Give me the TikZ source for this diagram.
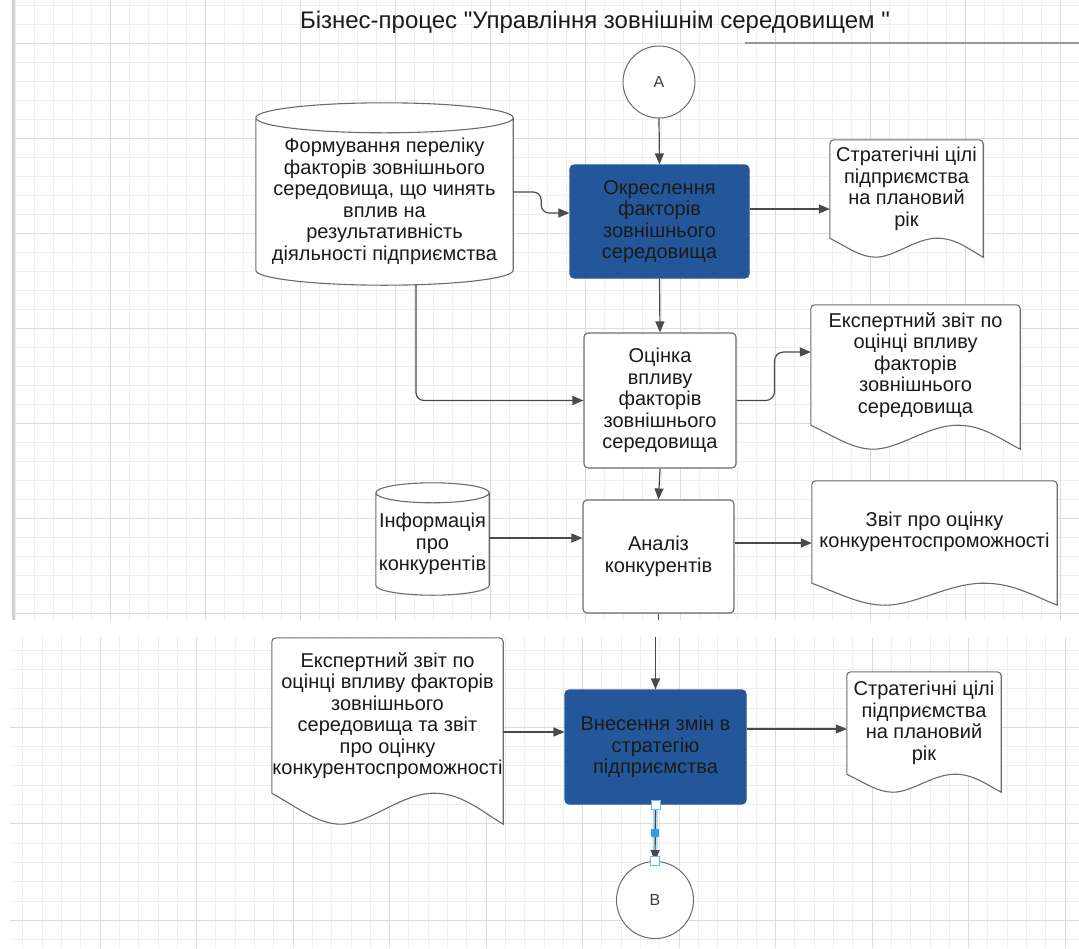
\documentclass[tikz,border=0pt]{standalone}
\usepackage{fontspec}
\setmainfont{Liberation Sans}[Ligatures=TeXOff]
\usetikzlibrary{arrows.meta,calc}

\definecolor{boxblue}{HTML}{24579A}
\definecolor{edgegray}{HTML}{4A4A4A}
\definecolor{framegray}{HTML}{6B6B6B}
\definecolor{txtgray}{HTML}{1A1A1A}
\definecolor{gridmin}{HTML}{EEEEEE}
\definecolor{gridmaj}{HTML}{DCDCDC}
\definecolor{selblue}{HTML}{2E9FE6}
\definecolor{selglow}{HTML}{B4DDF6}

\pgfdeclarelayer{back}
\pgfsetlayers{back,main}

\tikzset{
  every node/.style={font=\fontsize{20}{21.5}\selectfont, text=txtgray,
    align=center, inner sep=0pt},
  proc/.style={draw=framegray, line width=1.1pt, fill=white, rounded corners=4pt},
  term/.style={circle, draw=framegray, line width=1pt, fill=white,
    font=\fontsize{16}{18}\selectfont, text=black!75},
  shapeline/.style={draw=framegray, line width=1.1pt, fill=white},
  flow/.style={draw=edgegray, line width=1.2pt, -{Triangle[length=11pt,width=9pt]}},
  edgeline/.style={draw=edgegray, line width=1.2pt},
  gridline/.style={draw=gridmin, line width=0.8pt},
  gridmajor/.style={draw=gridmaj, line width=1pt},
  handle/.style={draw=selblue!70, fill=white, line width=1pt, minimum size=9pt}
}

% document outline: node = upper part, #2 = depth of the wave
\newcommand{\docout}[2]{%
  \begin{pgfonlayer}{back}
  \path[shapeline] ([yshift=-#2]#1.south east) [rounded corners=4pt] -- (#1.north east)
    -- (#1.north west) [sharp corners] -- (#1.south west)
    .. controls ([yshift=-0.5*#2]$(#1.south west)!.12!(#1.south east)$)
            and ([yshift=-#2]$(#1.south west)!.2!(#1.south east)$)
    .. ([yshift=-#2]$(#1.south west)!.3!(#1.south east)$)
    .. controls ([yshift=-#2]$(#1.south west)!.42!(#1.south east)$)
            and ($(#1.south west)!.56!(#1.south east)$)
    .. ($(#1.south west)!.7!(#1.south east)$)
    .. controls ($(#1.south west)!.82!(#1.south east)$)
            and ([yshift=-0.55*#2]$(#1.south west)!.9!(#1.south east)$)
    .. ([yshift=-#2]#1.south east) -- cycle;
  \end{pgfonlayer}}

% cylinder outline: node = body, #2 = radius of the ends
\newcommand{\cylout}[2]{%
  \begin{pgfonlayer}{back}
  \path[shapeline] let \p1=($(#1.east)-(#1.west)$) in
    (#1.north west) -- ([yshift=#2]#1.south west)
    arc[start angle=180, end angle=360, x radius=0.5*\x1, y radius=#2]
    -- (#1.north east)
    arc[start angle=0, end angle=180, x radius=0.5*\x1, y radius=#2] -- cycle
    (#1.north west) arc[start angle=180, end angle=360, x radius=0.5*\x1, y radius=#2];
  \end{pgfonlayer}}

\begin{document}
\begin{tikzpicture}[x=1pt, y=-1pt]
\useasboundingbox (0,0) rectangle (1079,948);

% background grid, two panels
\begin{pgfonlayer}{back}
\begin{scope}
  \clip (13,0) rectangle (1079,620);
  \foreach \gx in {15,34,...,1079} \draw[gridline] (\gx,0) -- (\gx,620);
  \foreach \gy in {5,24,...,620} \draw[gridline] (13,\gy) -- (1079,\gy);
  \foreach \gx in {110,205,...,1079} \draw[gridmajor] (\gx,0) -- (\gx,620);
  \foreach \gy in {43,138,...,620} \draw[gridmajor] (13,\gy) -- (1079,\gy);
\end{scope}
\draw[draw=black!18, line width=3pt] (13,0) -- (13,620);
\begin{scope}
  \clip (10,637) rectangle (1079,948);
  \foreach \gx in {3.5,22.8,...,1079} \draw[gridline] (\gx,637) -- (\gx,948);
  \foreach \gy in {650,669.3,...,948} \draw[gridline] (10,\gy) -- (1079,\gy);
  \foreach \gx in {100,196.5,...,1079} \draw[gridmajor] (\gx,637) -- (\gx,948);
  \foreach \gy in {727.2,823.7,...,948} \draw[gridmajor] (10,\gy) -- (1079,\gy);
\end{scope}
\end{pgfonlayer}

\node[font=\fontsize{24}{26}\selectfont] (title) at (595,22)
  {Бізнес-процес "Управління зовнішнім середовищем "};
\draw[draw=black!40, line width=2pt] (745,43) -- (1079,43);

\node[term, minimum size=72pt] (A) at (659,82) {A};
\node[proc, fill=boxblue, draw=boxblue, minimum width=179pt, minimum height=113pt]
  (okr) at (659.5,221.5) {Окреслення\\факторів\\зовнішнього\\середовища};
\node[minimum width=257pt, minimum height=167pt] (form) at (384.5,201.5)
  {Формування переліку\\факторів зовнішнього\\середовища, що чинять\\вплив на\\результативність\\діяльності підприємства};
\node[minimum width=153pt, minimum height=98pt] (goal1) at (906.5,189)
  {Стратегічні цілі\\підприємства\\на плановий\\рік};
\node[proc, minimum width=152pt, minimum height=135pt] (ocin) at (660,400.5)
  {Оцінка\\впливу\\факторів\\зовнішнього\\середовища};
\node[minimum width=209pt, minimum height=120pt] (rep1) at (915.5,365)
  {Експертний звіт по\\оцінці впливу\\факторів\\зовнішнього\\середовища};
\node[proc, minimum width=151pt, minimum height=113pt] (anal) at (658.5,556.5)
  {Аналіз\\конкурентів};
\node[minimum width=113pt, minimum height=102pt] (info) at (432.5,544)
  {Інформація\\про\\конкурентів};
\node[minimum width=245pt, minimum height=102pt] (rep2) at (934.5,532)
  {Звіт про оцінку\\конкурентоспроможності};
\node[proc, fill=boxblue, draw=boxblue, minimum width=181pt, minimum height=114pt]
  (vnes) at (655.5,747) {Внесення змін в\\стратегію\\підприємства};
\node[minimum width=231pt, minimum height=155pt] (rep3) at (387.5,715.5)
  {Експертний звіт по\\оцінці впливу факторів\\зовнішнього\\середовища та звіт\\про оцінку\\конкурентоспроможності};
\node[minimum width=154pt, minimum height=102pt] (goal2) at (924,723)
  {Стратегічні цілі\\підприємства\\на плановий\\рік};
\node[term, minimum size=77pt] (B) at (655,900) {B};

\foreach \d/\w in {goal1/19pt, rep1/24pt, rep2/22pt, rep3/31pt, goal2/18pt}
  \docout{\d}{\w};
\foreach \c/\r in {form/15pt, info/10pt}
  \cylout{\c}{\r};

% connectors
\foreach \a/\b in {A/okr, okr/ocin, ocin/anal}
  \draw[flow] (\a.south) -- (\b.north);
\draw[flow, rounded corners=8pt] ([yshift=9.5pt]form.east) -- ++(28,0)
  |- ([yshift=8.5pt]okr.west);
\draw[flow] ([yshift=12.5pt]okr.east) -- ([yshift=12.5pt]okr.east -| goal1.west);
\draw[flow, rounded corners=8pt] ([xshift=31.5pt]form.south) |- (ocin.west);
\draw[flow, rounded corners=9pt] (ocin.east) -- ++(38,0) |- ([yshift=13pt]rep1.west);
\draw[flow] ([yshift=6pt]info.east) -- ([yshift=6pt]info.east -| anal.west);
\draw[flow] ([yshift=13.5pt]anal.east) -- ([yshift=13.5pt]anal.east -| rep2.west);
\draw[edgeline] (anal.south) -- ++(0,6) coordinate (cut);
\coordinate (join) at (655.5,637);
\draw[flow] (join) -- (vnes.north);
\draw[flow] ([yshift=15pt]vnes.west -| rep3.east) -- ([yshift=15pt]vnes.west);
\draw[flow] ([yshift=18pt]vnes.east) -- ([yshift=18pt]vnes.east -| goal2.west);

% selected connector
\draw[draw=selglow, line width=5pt] (vnes.south) -- (B.north);
\draw[flow] (vnes.south) -- (B.north);
\node[handle] (hs) at (vnes.south) {};
\node[handle, fill=selblue, draw=selblue, minimum size=7pt] (hm)
  at ($(vnes.south)!.5!(B.north)$) {};
\node[handle] (he) at (B.north) {};

\end{tikzpicture}
\end{document}
